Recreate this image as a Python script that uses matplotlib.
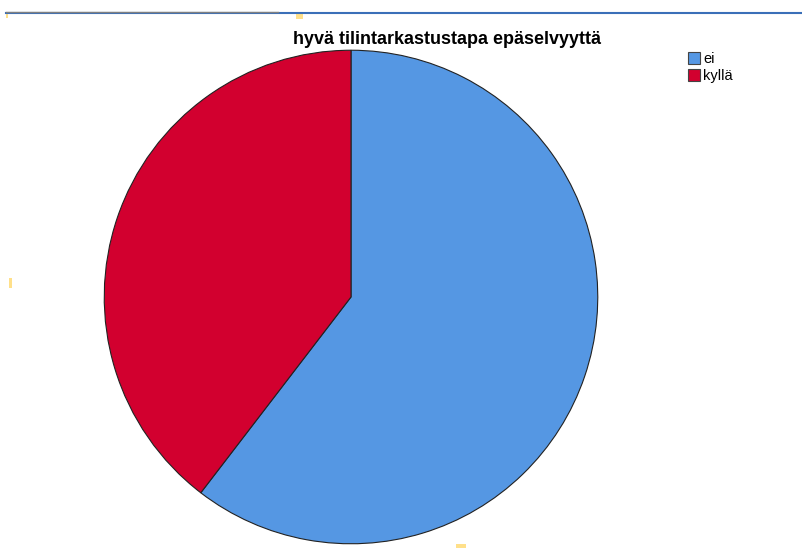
import matplotlib.pyplot as plt
from matplotlib.patches import Rectangle
from matplotlib.lines import Line2D

# data
labels = ["ei", "kyllä"]
counts = [29, 19]
colors = ["#5597E3", "#D2002F"]
title = "hyvä tilintarkastustapa epäselvyyttä"

W, H = 803, 548
fig = plt.figure(figsize=(W / 100, H / 100), dpi=100)
plt.rcParams['font.family'] = ['Liberation Sans', 'DejaVu Sans']

# frame line at the top
fig.add_artist(Line2D([6 / W, 1], [1 - 13 / H, 1 - 13 / H], color="#3A6FB8", lw=1.5))
fig.add_artist(Line2D([6 / W, 278 / W], [1 - 12 / H, 1 - 12 / H], color="#808080", lw=1.0))
# little yellow marks
for (x, y, w, h) in [(6, 14, 2, 4), (296, 14, 7, 5), (9, 278, 3, 10), (456, 544, 10, 4)]:
    fig.add_artist(Rectangle((x / W, 1 - (y + h) / H), w / W, h / H,
                             color="#FFE08A", lw=0))

ax = fig.add_axes([103 / W, 3 / H, 496 / W, 496 / H])
wedges, _ = ax.pie(counts, colors=colors, startangle=90, counterclock=False,
                   wedgeprops=dict(edgecolor="#222222", linewidth=0.8))
ax.set_xlim(-1.005, 1.005)
ax.set_ylim(-1.005, 1.005)
ax.set_aspect("equal")

fig.text(447 / W, 1 - 39 / H, title, ha="center", va="center",
         fontsize=13, fontweight="bold")

# legend
for i, (lab, col) in enumerate(zip(labels, colors)):
    y = 52 + i * 17
    fig.add_artist(Rectangle((688 / W, 1 - (y + 12) / H), 12 / W, 12 / H,
                             facecolor=col, edgecolor="#444444", lw=0.8))
    fig.text(703 / W, 1 - (y + 7) / H, lab, ha="left", va="center", fontsize=10.5)

fig.savefig("out.png", dpi=100)
